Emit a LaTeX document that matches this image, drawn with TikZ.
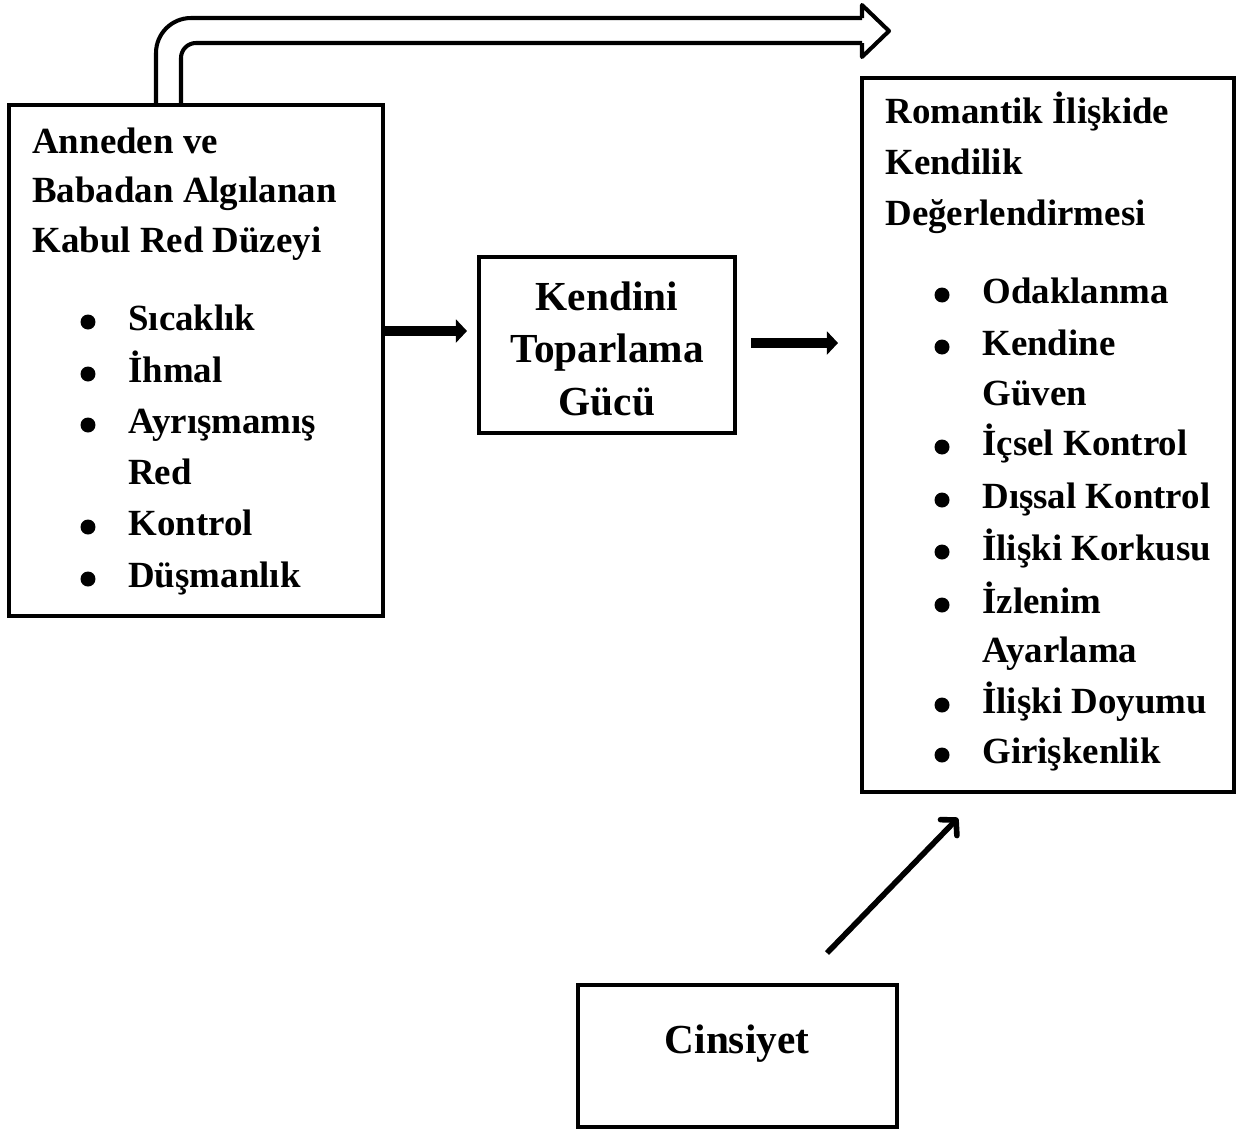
\documentclass[tikz,border=0pt]{standalone}
\usepackage{fontspec}
\setmainfont{Liberation Serif}
\usetikzlibrary{arrows.meta}
\begin{document}
\begin{tikzpicture}[x=0.02cm,y=-0.02cm,
        box/.style={draw,line width=2.3pt,inner sep=0pt},
        lc/.style={anchor=base west,inner sep=0pt,font=\bfseries\fontsize{21}{25}\selectfont},
        mc/.style={anchor=base,inner sep=0pt,font=\bfseries\fontsize{23.5}{28}\selectfont},
        thk/.style={line width=5.5pt,-{Triangle[length=6.3pt,width=13pt]}},
        blk/.style={line width=2.3pt,line join=round}]
    \useasboundingbox (0,0) rectangle (1240,1129);
    % boxes
    \node[box,minimum width=7.48cm,minimum height=10.22cm] (kabul) at (196,360.5) {};
    \node[box,minimum width=5.12cm,minimum height=3.52cm] (toparlama) at (607,345) {};
    \node[box,minimum width=7.44cm,minimum height=14.28cm] (romantik) at (1048,435) {};
    \node[box,minimum width=6.38cm,minimum height=2.84cm] (cinsiyet) at (737.5,1056) {};
    % left box
    \foreach[count=\i] \y/\t in {153/Anneden ve,202/Babadan Algılanan,252/Kabul Red Düzeyi}
        \node[lc] (kh\i) at (32,\y) {\t};
    \foreach[count=\i] \y/\t in {330/Sıcaklık,382/İhmal,433/Ayrışmamış,484/Red,535/Kontrol,587/Düşmanlık}
        \node[lc] (ki\i) at (128,\y) {\t};
    \foreach \y in {330,382,433,535,587}
        \fill (88,\y-8) circle[radius=0.15cm];
    % middle box
    \foreach[count=\i] \y/\t in {310/Kendini,362/Toparlama,415/Gücü}
        \node[mc] (t\i) at (607,\y) {\t};
    % right box
    \foreach[count=\i] \y/\t in {123/Romantik İlişkide,174/Kendilik,225/Değerlendirmesi}
        \node[lc] (rh\i) at (885,\y) {\t};
    \foreach[count=\i] \y/\t in {303/Odaklanma,355/Kendine,405/Güven,455/İçsel Kontrol,508/Dışsal Kontrol,
            560/İlişki Korkusu,613/İzlenim,662/Ayarlama,713/İlişki Doyumu,763/Girişkenlik}
        \node[lc] (ri\i) at (982,\y) {\t};
    \foreach \y in {303,355,455,508,560,613,713,763}
        \fill (942,\y-8) circle[radius=0.15cm];
    % bottom box
    \node[mc] (cs) at (737,1053) {Cinsiyet};
    % arrows
    \coordinate (a1) at (383,331);
    \coordinate (a2) at (467,331);
    \coordinate (b1) at (751,343);
    \coordinate (b2) at (838,343);
    \coordinate (c1) at (827,953);
    \coordinate (c2) at (958,818);
    \draw[thk] (a1) -- (a2);
    \draw[thk] (b1) -- (b2);
    \draw[line width=3.2pt,-{Straight Barb[round,length=6pt,width=13pt]}] (c1) -- (c2);
    % block arrow on top
    \coordinate (o1) at (156,105);
    \coordinate (i1) at (181,105);
    \draw[blk,rounded corners=0.7cm] (o1) |- (862,18);
    \draw[blk,rounded corners=0.3cm] (i1) |- (862,43);
    \draw[blk] (862,18) -- (862,5) -- (889,31) -- (862,57) -- (862,43);
\end{tikzpicture}
\end{document}
